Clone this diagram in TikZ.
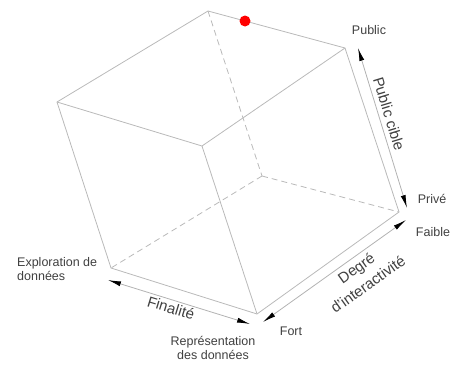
\documentclass[tikz,border=0pt]{standalone}
\usepackage{fontspec}
\setmainfont{Liberation Sans}
\usetikzlibrary{arrows.meta}
\tikzset{
  edge/.style={draw=gray!55, line width=0.8pt},
  hidden/.style={edge, dash pattern=on 6pt off 4pt},
  axis/.style={draw=gray!60, line width=0.8pt, {Latex[length=13pt,width=5pt,black]}-{Latex[length=13pt,width=5pt,black]}},
  lab/.style={text=black!75, font=\fontsize{12.5}{14}\selectfont, inner sep=1pt},
  ttl/.style={text=black!75, font=\fontsize{15}{20}\selectfont, align=center, inner sep=1pt}
}
\begin{document}
\begin{tikzpicture}[x=1pt, y=-1pt]
  \useasboundingbox (0,0) rectangle (454,364);
  % cube corners
  \coordinate (top) at (208,11);
  \coordinate (rt) at (345,48);
  \coordinate (lt) at (57,102);
  \coordinate (mid) at (202,146);
  \coordinate (back) at (262,176);
  \coordinate (rb) at (399,212);
  \coordinate (lb) at (111,268);
  \coordinate (bot) at (257,314);
  % visible edges
  \draw[edge] (top) -- (rt) -- (rb) -- (bot) -- (lb) -- (lt) -- cycle;
  \draw[edge] (lt) -- (mid) -- (rt);
  \draw[edge] (mid) -- (bot);
  % hidden edges
  \draw[hidden] (top) -- (back);
  \draw[hidden] (back) -- (rb);
  \draw[hidden] (back) -- (lb);
  \fill[red] (245,21) circle (5.5pt);
  % axes
  \coordinate (pub) at (358,48);
  \coordinate (pri) at (407,208);
  \coordinate (fai) at (406,220);
  \coordinate (for) at (263,322);
  \coordinate (exp) at (108,280);
  \coordinate (rep) at (250,324);
  \draw[axis] (pub) -- (pri);
  \draw[axis] (fai) -- (for);
  \draw[axis] (exp) -- (rep);
  % labels
  \node[lab] (lpub) at (369,30) {Public};
  \node[lab] (lpri) at (432,199) {Privé};
  \node[lab] (lfai) at (433,232) {Faible};
  \node[lab] (lfor) at (291,331) {Fort};
  \node[lab, align=left, anchor=west] (lexp) at (16,269) {Exploration de\\données};
  \node[lab, align=center] (lrep) at (213,348) {Représentation\\des données};
  \node[ttl, rotate=-73] (tpub) at (389,114) {Public cible};
  \node[ttl, rotate=35.5] (tdeg) at (362,276) {Degré\\d'interactivité};
  \node[ttl, rotate=-17] (tfin) at (171,308) {Finalité};
\end{tikzpicture}
\end{document}
